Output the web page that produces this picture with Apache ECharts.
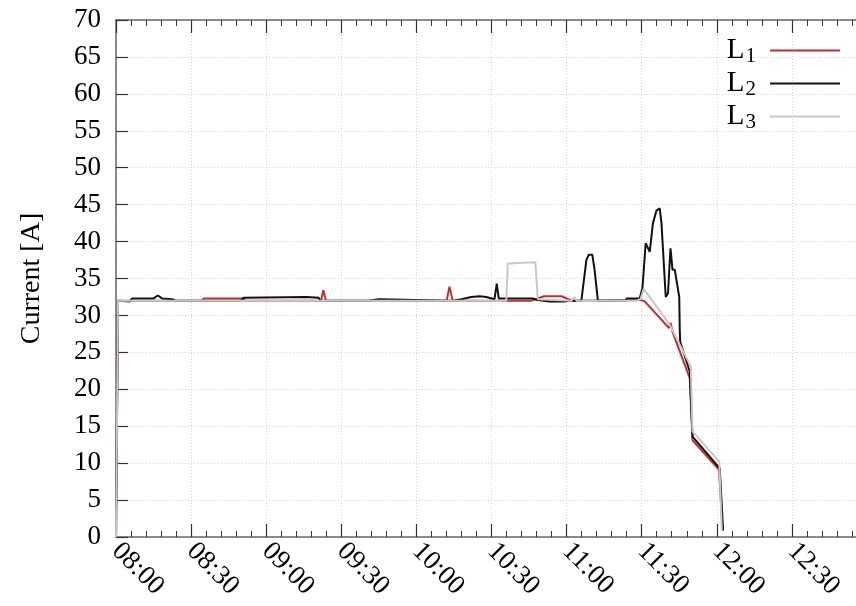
<!DOCTYPE html>
<html>
<head>
<meta charset="utf-8">
<script src="https://cdn.jsdelivr.net/npm/echarts@6/dist/echarts.min.js"></script>
<style>
    html, body { margin: 0; padding: 0; background: #fff; overflow: hidden; }
    #current_chart { width: 880px; height: 606px; }
</style>
</head>
<body>
<div id="current_chart"></div>
<script>
// Data (time = minutes after 08:00, value = current in A)
// ------------------------------

var seriesNames = ['L1', 'L2', 'L3'];
var seriesColors = ['#c0302e', '#111111', '#c8c8c8'];

var l1Time  = [0, 0.8, 34.5, 35, 51, 51.5, 81.9, 82.8, 83.9, 132.1, 133.2, 134.5, 166, 168.5, 171, 178, 182, 209.5, 211.2, 220.9, 221.5, 222.5, 229.2, 229.6, 230.3, 240.9, 242.3];
var l1Value = [0, 32, 32, 32.3, 32.3, 32, 32, 33.4, 32, 32, 33.9, 32, 32, 32.3, 32.6, 32.6, 32, 32.1, 31.9, 28.3, 29.0, 27.6, 21.5, 21.3, 13.1, 9.1, 0.9];

var l2Time  = [0, 0.8, 5.6, 6.4, 15, 16.7, 18.4, 22.4, 23.7, 50, 51, 76, 81, 81.5, 101, 101.5, 105, 105.5, 134.5, 138, 141.9, 145.2, 147.9, 151.2, 152.1, 152.9, 166.5, 168.5, 173.2, 179.2, 181, 185.9, 187.9, 188.8, 190.3, 191.2, 192.5, 203.5, 204, 209.2, 210.3, 211.6, 213.2, 214.5, 215.9, 217.2, 217.9, 219.6, 220.5, 221.5, 222.3, 223.2, 225.0, 225.2, 225.4, 229.2, 229.6, 230.3, 241.2, 242.5];
var l2Value = [0, 32, 31.9, 32.3, 32.3, 32.7, 32.3, 32.2, 32, 32, 32.4, 32.5, 32.4, 32, 32, 32.2, 32.2, 32, 32, 32.2, 32.5, 32.6, 32.5, 32.2, 34.3, 32.3, 32.3, 32.1, 31.9, 31.9, 32, 32, 37.5, 38.2, 38.2, 36.1, 32, 32, 32.3, 32.3, 33.7, 39.8, 38.6, 42.5, 44.2, 44.5, 42.5, 32.5, 33.0, 39.1, 36.2, 36.2, 32.5, 28.0, 26.4, 22.4, 22.2, 13.6, 9.3, 0.9];

var l3Time  = [0, 0.8, 155.9, 156.5, 160, 167.5, 168.5, 169, 182, 183, 184, 208, 209.5, 210.8, 220.9, 229.6, 230.3, 241.0, 242.0];
var l3Value = [0, 32, 32, 37.0, 37.1, 37.2, 32.2, 32, 32, 32.5, 32, 32, 32.2, 33.6, 28.9, 23.1, 14.3, 10.2, 0.9];

var yTicks = [0, 70, 5];      // min, max, step
var xTicks = [0, 300, 30];    // 08:00 .. 13:00 every 30 min


// Setup module
// ------------------------------

var EchartsCurrentLines = function() {

    var pairs = function(t, v) {
        return t.map(function(x, i) { return [x, v[i]]; });
    };

    var clock = function(m) {
        var total = 8 * 60 + m;
        var h = Math.floor(total / 60), mm = total % 60;
        return (h < 10 ? '0' : '') + h + ':' + (mm < 10 ? '0' : '') + mm;
    };

    var _currentChart = function() {
        if (typeof echarts == 'undefined') {
            console.warn('Warning - echarts.min.js is not loaded.');
            return;
        }

        var element = document.getElementById('current_chart');
        if (!element) return;

        var chart = echarts.init(element);
        var serif = '"Liberation Serif", "Times New Roman", serif';

        var axisLine = { lineStyle: { color: '#666', width: 1.5 } };
        var axisTick = { inside: true, length: 13, lineStyle: { color: '#333', width: 1.2 } };
        var minorTick = { show: true, splitNumber: 5, length: 6, lineStyle: { color: '#333', width: 1 } };

        var data = [pairs(l1Time, l1Value), pairs(l2Time, l2Value), pairs(l3Time, l3Value)];

        chart.setOption({
            animation: false,
            backgroundColor: '#fff',
            textStyle: { fontFamily: serif },

            // Setup grid
            grid: {
                left: 116,
                right: 13,
                top: 20,
                bottom: 69,
                containLabel: false,
                outerBoundsMode: 'none'
            },

            // Legend
            legend: {
                orient: 'vertical',
                right: 35,
                top: 29,
                align: 'right',
                icon: 'rect',
                itemWidth: 70,
                itemHeight: 2,
                itemGap: 0,
                data: seriesNames,
                formatter: function(name) {
                    return '{m|L}{s|' + name.slice(1) + '}';
                },
                textStyle: {
                    rich: {
                        m: { fontSize: 29, fontFamily: serif, color: '#000', lineHeight: 32 },
                        s: { fontSize: 21, fontFamily: serif, color: '#000', lineHeight: 20, padding: [12, 9, 0, 1] }
                    }
                }
            },

            // Horizontal axes
            xAxis: [{
                type: 'value',
                min: xTicks[0],
                max: xTicks[1],
                interval: xTicks[2],
                axisLine: axisLine,
                axisTick: axisTick,
                minorTick: minorTick,
                axisLabel: {
                    rotate: -45,
                    margin: 10,
                    fontSize: 27,
                    fontFamily: serif,
                    color: '#000',
                    formatter: clock
                },
                splitLine: { lineStyle: { color: '#d4d4d4', type: [1, 2] } }
            }, {
                type: 'value',
                position: 'top',
                min: xTicks[0],
                max: xTicks[1],
                interval: xTicks[2],
                axisLine: axisLine,
                axisTick: axisTick,
                minorTick: minorTick,
                axisLabel: { show: false },
                splitLine: { show: false }
            }],

            // Vertical axis
            yAxis: [{
                type: 'value',
                min: yTicks[0],
                max: yTicks[1],
                interval: yTicks[2],
                name: 'Current [A]',
                nameLocation: 'middle',
                nameGap: 70,
                nameTextStyle: { fontSize: 28, fontFamily: serif, color: '#000' },
                axisLine: { show: true, lineStyle: { color: '#666', width: 1.5 } },
                axisTick: { show: true, inside: true, length: 12, lineStyle: { color: '#333', width: 1.2 } },
                axisLabel: { margin: 15, fontSize: 27, fontFamily: serif, color: '#000' },
                splitLine: { lineStyle: { color: '#d4d4d4', type: [1, 2] } }
            }],

            // Series
            series: seriesNames.map(function(name, i) {
                return {
                    name: name,
                    type: 'line',
                    symbol: 'none',
                    color: seriesColors[i],
                    lineStyle: { color: seriesColors[i], width: 2 },
                    data: data[i]
                };
            })
        });
    };

    return {
        init: function() {
            _currentChart();
        }
    };
}();


// Initialize module
// ------------------------------

document.addEventListener('DOMContentLoaded', function() {
    EchartsCurrentLines.init();
});
</script>
</body>
</html>
